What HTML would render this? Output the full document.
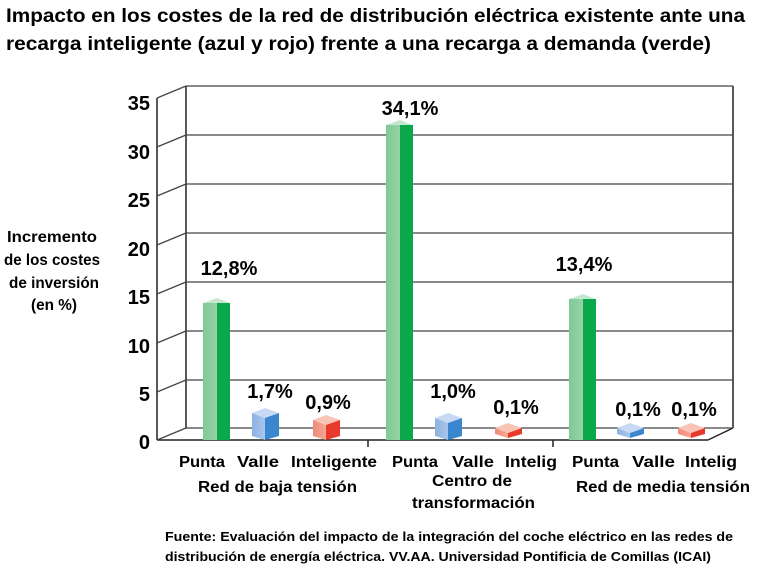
<!DOCTYPE html>
<html><head><meta charset="utf-8"><style>
html,body{margin:0;padding:0;background:#fff;}
svg{display:block;font-family:"Liberation Sans",sans-serif;font-weight:bold;}
</style></head><body>
<svg width="767" height="573" viewBox="0 0 767 573" xmlns="http://www.w3.org/2000/svg">
<defs>
<linearGradient id="gl" x1="0" x2="1"><stop offset="0" stop-color="#7fc994"/><stop offset="1" stop-color="#95d3a6"/></linearGradient>
<linearGradient id="bl" x1="0" x2="1"><stop offset="0" stop-color="#8fb2e0"/><stop offset="1" stop-color="#a9c5ec"/></linearGradient>
<linearGradient id="rl" x1="0" x2="1"><stop offset="0" stop-color="#f08a78"/><stop offset="1" stop-color="#f6a696"/></linearGradient>
</defs>
<text x="6" y="22" font-size="19.5" textLength="739" lengthAdjust="spacingAndGlyphs">Impacto en los costes de la red de distribución eléctrica existente ante una</text>
<text x="6" y="50" font-size="19.5" textLength="705" lengthAdjust="spacingAndGlyphs">recarga inteligente (azul y rojo) frente a una recarga a demanda (verde)</text>

<g font-size="16" text-anchor="middle">
<text x="52" y="242" textLength="90" lengthAdjust="spacingAndGlyphs">Incremento</text>
<text x="52" y="265" textLength="96" lengthAdjust="spacingAndGlyphs">de los costes</text>
<text x="54" y="288" textLength="90" lengthAdjust="spacingAndGlyphs">de inversión</text>
<text x="54" y="310" textLength="46" lengthAdjust="spacingAndGlyphs">(en %)</text>
</g>

<g stroke="#222" stroke-width="1.5" fill="none">
<line x1="186" y1="86" x2="186" y2="428"/>
<line x1="733" y1="86" x2="733" y2="428"/>
<line x1="157" y1="98" x2="157" y2="440"/>
<line x1="157" y1="440" x2="708" y2="440"/>
<line x1="708" y1="440" x2="733" y2="428"/>
<line x1="368" y1="440" x2="368" y2="447"/>
<line x1="553" y1="440" x2="553" y2="447"/>
</g>
<g stroke="#444" stroke-width="1.3">
<line x1="186" y1="86" x2="733" y2="86"/>
<line x1="186" y1="135" x2="733" y2="135"/>
<line x1="186" y1="184" x2="733" y2="184"/>
<line x1="186" y1="233" x2="733" y2="233"/>
<line x1="186" y1="282" x2="733" y2="282"/>
<line x1="186" y1="331" x2="733" y2="331"/>
<line x1="186" y1="380" x2="733" y2="380"/>
<line x1="186" y1="428" x2="733" y2="428"/>
<line x1="157" y1="98" x2="186" y2="86"/>
<line x1="157" y1="147" x2="186" y2="135"/>
<line x1="157" y1="196" x2="186" y2="184"/>
<line x1="157" y1="245" x2="186" y2="233"/>
<line x1="157" y1="294" x2="186" y2="282"/>
<line x1="157" y1="343" x2="186" y2="331"/>
<line x1="157" y1="392" x2="186" y2="380"/>
<line x1="157" y1="440" x2="186" y2="428"/>
</g>
<g font-size="20" text-anchor="end">
<text x="150" y="110">35</text>
<text x="150" y="159">30</text>
<text x="150" y="207">25</text>
<text x="150" y="256">20</text>
<text x="150" y="304">15</text>
<text x="150" y="353">10</text>
<text x="150" y="401">5</text>
<text x="150" y="449">0</text>
</g>

<g>
<polygon points="203,303 217,298 230,303 217,308" fill="#c4e8cf"/>
<rect x="203" y="303" width="14" height="137" fill="url(#gl)"/>
<rect x="217" y="303" width="13" height="137" fill="#0aa84a"/>
<polygon points="386,125 400,120 413,125 400,130" fill="#c4e8cf"/>
<rect x="386" y="125" width="14" height="315" fill="url(#gl)"/>
<rect x="400" y="125" width="13" height="315" fill="#0aa84a"/>
<polygon points="569,299 583,294 596,299 583,304" fill="#c4e8cf"/>
<rect x="569" y="299" width="14" height="141" fill="url(#gl)"/>
<rect x="583" y="299" width="13" height="141" fill="#0aa84a"/>
</g>
<g>
<polygon points="252,413 265,408 279,413 265,418" fill="#c7d9f3"/>
<polygon points="252,413 265,418 265,440 252,436" fill="url(#bl)"/>
<polygon points="265,418 279,413 279,436 265,440" fill="#3a87d0"/>
<polygon points="313,420 326,415 340,420 326,425" fill="#f9c3b6"/>
<polygon points="313,420 326,425 326,440 313,436" fill="url(#rl)"/>
<polygon points="326,425 340,420 340,436 326,440" fill="#e83a2c"/>
<polygon points="435,418 448,413 462,418 448,423" fill="#c7d9f3"/>
<polygon points="435,418 448,423 448,440 435,436" fill="url(#bl)"/>
<polygon points="448,423 462,418 462,436 448,440" fill="#3a87d0"/>
<polygon points="495,428 508,423 522,428 508,433" fill="#f9c3b6"/>
<polygon points="495,428 508,433 508,438 495,434" fill="url(#rl)"/>
<polygon points="508,433 522,428 522,434 508,438" fill="#e83a2c"/>
<polygon points="617,428 630,423 644,428 630,433" fill="#c7d9f3"/>
<polygon points="617,428 630,433 630,438 617,434" fill="url(#bl)"/>
<polygon points="630,433 644,428 644,434 630,438" fill="#3a87d0"/>
<polygon points="678,428 691,423 705,428 691,433" fill="#f9c3b6"/>
<polygon points="678,428 691,433 691,438 678,434" fill="url(#rl)"/>
<polygon points="691,433 705,428 705,434 691,438" fill="#e83a2c"/>
</g>

<g font-size="20" text-anchor="middle">
<text x="229" y="275">12,8%</text>
<text x="410" y="115">34,1%</text>
<text x="270" y="398">1,7%</text>
<text x="328" y="409">0,9%</text>
<text x="453" y="398">1,0%</text>
<text x="516" y="414">0,1%</text>
<text x="584" y="271">13,4%</text>
<text x="638" y="416">0,1%</text>
<text x="694" y="416">0,1%</text>
</g>

<g font-size="16">
<text x="179" y="467" textLength="46" lengthAdjust="spacingAndGlyphs">Punta</text>
<text x="237" y="467" textLength="42" lengthAdjust="spacingAndGlyphs">Valle</text>
<text x="291" y="467" textLength="86" lengthAdjust="spacingAndGlyphs">Inteligente</text>
<text x="392" y="467" textLength="46" lengthAdjust="spacingAndGlyphs">Punta</text>
<text x="452" y="467" textLength="42" lengthAdjust="spacingAndGlyphs">Valle</text>
<text x="505" y="467" textLength="52" lengthAdjust="spacingAndGlyphs">Intelig</text>
<text x="572" y="467" textLength="47" lengthAdjust="spacingAndGlyphs">Punta</text>
<text x="632" y="467" textLength="43" lengthAdjust="spacingAndGlyphs">Valle</text>
<text x="685" y="467" textLength="52" lengthAdjust="spacingAndGlyphs">Intelig</text>
<text x="198" y="492" textLength="159" lengthAdjust="spacingAndGlyphs">Red de baja tensión</text>
<text x="432" y="486" textLength="80" lengthAdjust="spacingAndGlyphs">Centro de</text>
<text x="412" y="508" textLength="123" lengthAdjust="spacingAndGlyphs">transformación</text>
<text x="576" y="492" textLength="174" lengthAdjust="spacingAndGlyphs">Red de media tensión</text>
</g>
<g font-size="13">
<text x="165" y="541" textLength="568" lengthAdjust="spacingAndGlyphs">Fuente: Evaluación del impacto de la integración del coche eléctrico en las redes de</text>
<text x="165" y="561" textLength="546" lengthAdjust="spacingAndGlyphs">distribución de energía eléctrica. VV.AA. Universidad Pontificia de Comillas (ICAI)</text>
</g>
</svg>
</body></html>
